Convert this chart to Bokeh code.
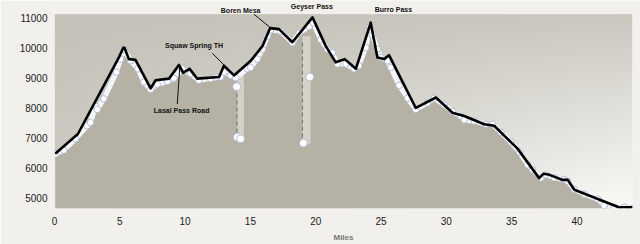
import numpy as np
from bokeh.plotting import figure
from bokeh.models import Label, Arrow, FixedTicker, Range1d
from bokeh.embed import file_html
from bokeh.resources import INLINE

# ---------------- data ----------------
# elevation profile (black line): miles, feet
line_miles = [0.05, 1.79, 4.93, 5.26, 5.36, 5.69, 6.2, 7.36, 7.74, 8.76, 9.52, 9.86, 10.34, 10.93,
              12.6, 12.97, 13.74, 15.02, 15.92, 16.5, 17.19, 18.21, 19.75, 20.77, 21.53, 22.22,
              23.07, 24.21, 24.72, 25.23, 25.61, 27.66, 29.2, 30.47, 31.37, 32.9, 33.66, 35.45,
              37.1, 37.45, 37.9, 38.9, 39.3, 39.8, 43.2, 44.27]
line_elev = [6470, 7128, 9692, 10019, 10019, 9636, 9614, 8655, 8927, 8982, 9440, 9179, 9310, 8982,
             9038, 9417, 9090, 9581, 10071, 10673, 10640, 10202, 11033, 10071, 9528, 9636,
             9310, 10856, 9692, 9636, 9767, 8000, 8351, 7838, 7730, 7455, 7403, 6638,
             5650, 5800, 5760, 5590, 5590, 5260, 4676, 4676]

# GPS track points (white dots): miles, feet
gps_miles = [0.08, 0.71, 1.61, 2.5, 2.76, 3.14, 3.27, 3.78, 4.75, 5.06, 5.31, 5.82, 6.38, 6.84,
             7.36, 7.87, 8.64, 9.14, 9.78, 10.4, 11.06, 11.95, 12.72, 12.97, 13.49, 13.87,
             14.77, 15.02, 15.53, 15.92, 16.3, 16.55, 17.32, 18.21, 18.72, 19.49, 19.8, 20.38,
             20.9, 21.28, 21.66, 22.3, 22.93, 23.3, 23.83, 24.16, 24.34, 24.72, 24.98, 25.49,
             25.75, 26.38, 27.03, 27.66, 28.55, 29.07, 29.83, 30.47, 31.11, 31.37, 32.13,
             33.03, 33.54, 34.18, 34.94, 35.58, 36.22, 36.6, 37.24, 37.62, 38.26, 39.02,
             39.28, 39.79, 40.56, 41.58, 42.09, 42.86, 43.62, 44.14]
gps_elev = [6455, 6585, 6965, 7403, 7510, 8057, 7946, 8305, 9201, 9636, 9963, 9581, 9310, 8865,
            8620, 8790, 8884, 8995, 9310, 9146, 8927, 8982, 9038, 9201, 9090, 9010,
            9310, 9355, 9636, 9963, 10400, 10617, 10563, 10182, 10509, 10727, 10850, 10290,
            9963, 9845, 9473, 9473, 9310, 9417, 10019, 10727, 10454, 9963, 9692, 9581,
            9355, 8755, 8328, 7946, 8165, 8328, 8100, 7884, 7720, 7600, 7557,
            7455, 7455, 7184, 6857, 6530, 6095, 5930, 5657, 5760, 5657, 5605,
            5549, 5277, 5114, 4950, 4732, 4676, 4676, 4624]

# stray GPS points (signal drop-outs)
stray_miles = [13.95, 14.0, 14.25, 19.06, 19.54]
stray_elev = [8711, 7020, 6965, 6824, 9038]

# drop-out strips: left, right, bottom, top
strip_left = [14.0, 18.98]
strip_right = [14.5, 19.6]
strip_bottom = [6950, 6800]
strip_top = [9140, 10400]

# dashed drop lines: mile, from, to
drop_miles = [13.97, 18.98]
drop_top = [8720, 10190]
drop_bottom = [7020, 6920]

x_ticks = [0, 5, 10, 15, 20, 25, 30, 35, 40]
y_ticks = [5000, 6000, 7000, 8000, 9000, 10000, 11000]

# place names: text, label x, label y, leader from (x,y) to (x,y)
place_names = ["Boren Mesa", "Geyser Pass", "Burro Pass", "Squaw Spring TH", "Lasal Pass Road"]
place_lx = [14.25, 19.7, 25.95, 10.68, 9.73]
place_ly = [11271, 11410, 11304, 10094, 7913]
lead_x0 = [15.27, None, None, 12.08, 9.4]
lead_y0 = [11140, None, None, 9833, 8132]
lead_x1 = [16.48, None, None, 13.03, 9.6]
lead_y1 = [10706, None, None, 9417, 9440]

# ---------------- figure ----------------
XMIN, XMAX = 0, 44.25
YMIN, YTOP = 4633, 11141      # painted chart area
YMAX = 11599                  # room above for the pass names

PAGE = "#f1f0ec"
p = figure(width=640, height=244, output_backend="svg", toolbar_location=None,
           x_range=Range1d(XMIN, XMAX), y_range=Range1d(YMIN, YMAX),
           min_border_left=54, min_border_right=8, min_border_top=0, min_border_bottom=31)
p.border_fill_color = PAGE
p.background_fill_color = PAGE
p.outline_line_color = None
p.grid.visible = False

# gradient background (decoration)
H, W = 100, 290
yd = 1.0 - np.linspace(0, 1, H)[:, None]   # 0 at top, 1 at bottom (row 0 = bottom)
xf = np.linspace(0, 1, W)[None, :]
t = np.clip(yd * (0.2 + 0.75 * xf) + 0.12 * xf, 0, 1)
c0 = np.array([196, 193, 184])
c1 = np.array([247, 247, 244])
rgb = c0[None, None, :] * (1 - t[..., None]) + c1[None, None, :] * t[..., None]
img = np.empty((H, W), dtype=np.uint32)
view = img.view(dtype=np.uint8).reshape((H, W, 4))
view[..., 0] = rgb[..., 0].astype(np.uint8)
view[..., 1] = rgb[..., 1].astype(np.uint8)
view[..., 2] = rgb[..., 2].astype(np.uint8)
view[..., 3] = 255
p.image_rgba(image=[img], x=XMIN, y=YMIN, dw=XMAX - XMIN, dh=YTOP - YMIN)

# terrain fill under the GPS track
p.varea(x=gps_miles, y1=[YMIN] * len(gps_miles), y2=gps_elev, fill_color="#b5b1a4")

# drop-out strips
p.quad(left=strip_left, right=strip_right, bottom=strip_bottom, top=strip_top,
       fill_color="#d8d5cd", line_color=None, fill_alpha=0.9)
p.segment(x0=drop_miles, y0=drop_top, x1=drop_miles, y1=drop_bottom,
          line_color="#6f6f6f", line_width=1, line_dash="4 3")

# GPS track band and dots
p.line(gps_miles, gps_elev, line_color="#f4f5fa", line_width=5, line_join="round")
p.scatter(gps_miles, gps_elev, size=6.5, fill_color="white", line_color="#a3add0", line_width=0.8)
p.scatter(stray_miles, stray_elev, size=8, fill_color="white", line_color="#a3add0", line_width=0.8)

# profile line
p.line(line_miles, line_elev, line_color="black", line_width=2.6, line_join="round")

# labels
for name, lx, ly, x0, y0, x1, y1 in zip(place_names, place_lx, place_ly, lead_x0, lead_y0, lead_x1, lead_y1):
    p.add_layout(Label(x=lx, y=ly, text=name, text_align="center", text_baseline="middle",
                       text_font="Liberation Sans", text_font_style="bold", text_font_size="7px",
                       text_color="#111111"))
    if x0 is not None:
        p.add_layout(Arrow(x_start=x0, y_start=y0, x_end=x1, y_end=y1, end=None,
                           line_color="#111111", line_width=1))

# axes
for ax in (p.xaxis[0], p.yaxis[0]):
    ax.axis_line_color = None
    ax.major_tick_line_color = None
    ax.minor_tick_line_color = None
    ax.major_label_text_font = "Liberation Sans"
    ax.major_label_text_font_size = "10px"
    ax.major_label_text_color = "#222222"
p.xaxis.ticker = FixedTicker(ticks=x_ticks)
p.yaxis.ticker = FixedTicker(ticks=y_ticks)
p.xaxis.major_label_standoff = 2
p.yaxis.major_label_standoff = 1
p.xaxis.axis_label = "Miles"
p.xaxis.axis_label_text_font = "Liberation Sans"
p.xaxis.axis_label_text_font_style = "bold"
p.xaxis.axis_label_text_font_size = "8px"
p.xaxis.axis_label_text_color = "#777777"
p.xaxis.axis_label_standoff = 5

open("out.html", "w").write(file_html(p, INLINE))
